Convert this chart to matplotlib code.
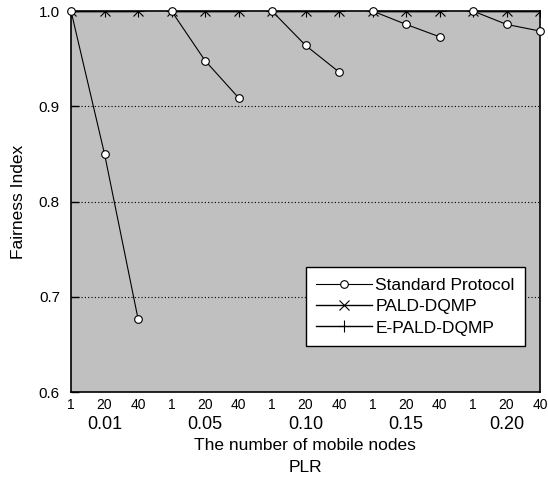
import numpy as np
import matplotlib
matplotlib.use('Agg')
import matplotlib.pyplot as plt

# Datos
plr_labels = ['0.01', '0.05', '0.10', '0.15', '0.20']
nodes = ['1', '20', '40']
standard = [[1.0, 0.850, 0.677],
            [1.0, 0.948, 0.909],
            [1.0, 0.964, 0.936],
            [1.0, 0.986, 0.973],
            [1.0, 0.986, 0.979]]
pald = [[1.0, 1.0, 1.0]] * 5
epald = [[1.0, 1.0, 1.0]] * 5

plt.rcParams['font.family'] = ['Liberation Sans', 'DejaVu Sans']

fig = plt.figure(figsize=(5.48, 4.8), dpi=100)
ax = fig.add_axes([0.1296, 0.1833, 0.8558, 0.7937])
ax.set_facecolor('#c0c0c0')

n = len(nodes)
for g in range(len(plr_labels)):
    x = np.arange(n) + g * n
    ax.plot(x, epald[g], color='black', lw=1.0, marker='+', ms=9, mew=0.8,
            label='E-PALD-DQMP' if g == 0 else None, zorder=3)
    ax.plot(x, pald[g], color='black', lw=1.0, marker='x', ms=7, mew=0.8,
            label='PALD-DQMP' if g == 0 else None, zorder=3)
    ax.plot(x, standard[g], color='black', lw=0.8, marker='o', ms=5.5,
            mfc='white', mec='black', mew=0.8,
            label='Standard Protocol' if g == 0 else None, zorder=4, clip_on=False)

ax.set_xlim(0, len(plr_labels) * n - 1)
ax.set_ylim(0.6, 1.0)
ax.set_xticks(np.arange(len(plr_labels) * n))
ax.set_xticklabels(nodes * len(plr_labels), fontsize=10)
ax.set_yticks([0.6, 0.7, 0.8, 0.9, 1.0])
ax.set_yticklabels(['0.6', '0.7', '0.8', '0.9', '1.0'], fontsize=11)
ax.tick_params(axis='both', direction='in', length=6, width=1.0, pad=8)
ax.tick_params(axis='x', length=0, pad=4)
for y in [0.7, 0.8, 0.9]:
    ax.axhline(y, color='black', lw=0.8, ls=(0, (1, 2)), zorder=1)
for s in ax.spines.values():
    s.set_linewidth(1.2)

for g, lab in enumerate(plr_labels):
    ax.text(g * n + 1, -0.084, lab, transform=ax.get_xaxis_transform(),
            ha='center', va='center', fontsize=13)
fig.text(0.5 * (0.1296 + 0.985), 1 - 446 / 480, 'The number of mobile nodes',
         ha='center', va='center', fontsize=12.5)
fig.text(0.5 * (0.1296 + 0.985), 1 - 468 / 480, 'PLR',
         ha='center', va='center', fontsize=12.5)
ax.set_ylabel('Fairness Index', fontsize=12.5, labelpad=9)

h, l = ax.get_legend_handles_labels()
order = [l.index('Standard Protocol'), l.index('PALD-DQMP'), l.index('E-PALD-DQMP')]
leg = ax.legend([h[i] for i in order], [l[i] for i in order],
                loc='lower right', bbox_to_anchor=(0.968, 0.121),
                fancybox=False, framealpha=1, edgecolor='black',
                fontsize=12.5, handlelength=3.2, borderpad=0.6, labelspacing=0.35,
                handletextpad=0.2, borderaxespad=0)
leg.get_frame().set_linewidth(1.0)

plt.savefig('out.png', dpi=100)
